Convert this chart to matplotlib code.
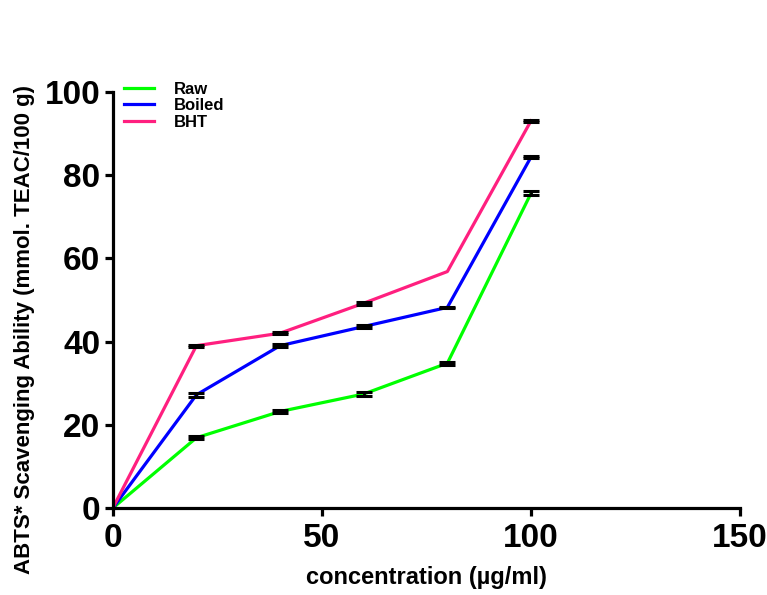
import matplotlib.pyplot as plt
import numpy as np

plt.rcParams['font.family'] = ['Liberation Sans', 'DejaVu Sans']
plt.rcParams['font.weight'] = 'bold'

conc = [0, 20, 40, 60, 80, 100]

raw = [0, 16.9, 23.2, 27.4, 34.8, 75.6]
raw_err = [0, 0.3, 0.4, 0.4, 0.4, 0.5]

boiled = [0, 27.2, 39.0, 43.6, 48.2, 84.3]
boiled_err = [0, 0.5, 0.3, 0.4, 0.2, 0.2]

# no error bar visible on BHT at 80
bht = [0, 39.0, 42.0, 49.2, 56.8, 93.0]
bht_err = [0, 0.2, 0.3, 0.4, None, 0.2]

series = [
    ("Raw", raw, raw_err, "#00ff00"),
    ("Boiled", boiled, boiled_err, "#0000ff"),
    ("BHT", bht, bht_err, "#ff1f7f"),
]

fig = plt.figure(figsize=(7.67, 5.95), dpi=100)
ax = fig.add_axes([0.147, 0.146, 0.818, 0.7])

for name, vals, err, col in series:
    ax.plot(conc, vals, color=col, lw=2.3, label=name, zorder=2)
    xs = [c for c, e in zip(conc[1:], err[1:]) if e]
    ys = [v for v, e in zip(vals[1:], err[1:]) if e]
    es = [e for e in err[1:] if e]
    ax.errorbar(xs, ys, yerr=es, fmt='none', ecolor='black',
                elinewidth=2, capsize=5.5, capthick=2.2, zorder=3)

ax.set_xlim(0, 150)
ax.set_ylim(0, 100)
ax.set_xticks([0, 50, 100, 150])
ax.set_yticks([0, 20, 40, 60, 80, 100])

for s in ['top', 'right']:
    ax.spines[s].set_visible(False)
for s in ['left', 'bottom']:
    ax.spines[s].set_linewidth(2.3)
ax.tick_params(axis='both', width=2.3, length=6, labelsize=24, direction='out')
ax.tick_params(axis='x', pad=5)
ax.tick_params(axis='y', pad=3)

ax.set_xlabel("concentration (µg/ml)", fontsize=17, fontweight='bold')
ax.set_ylabel("ABTS* Scavenging Ability (mmol. TEAC/100 g)", fontsize=16,
              fontweight='bold')
ax.xaxis.set_label_coords(0.5, -0.14)
ax.yaxis.set_label_coords(-0.124, 0.43)

ax.legend(loc='upper left', bbox_to_anchor=(0.142, 0.888), bbox_transform=fig.transFigure,
          frameon=False, fontsize=12, handlelength=1.8, labelspacing=0.1,
          handletextpad=1.2)

fig.savefig("out.png", dpi=100)
